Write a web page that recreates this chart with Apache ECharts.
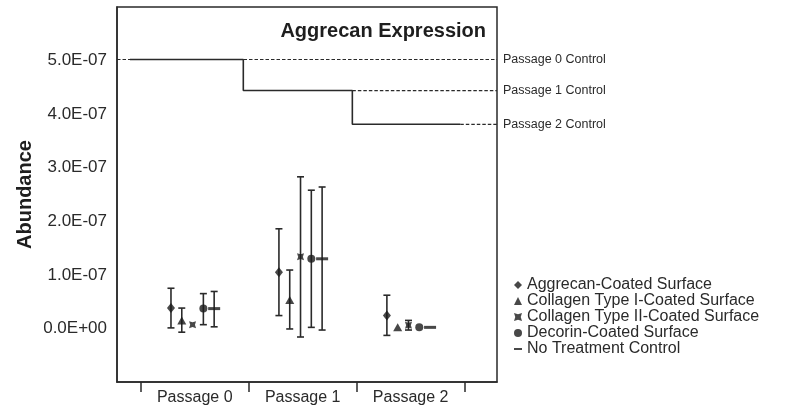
<!DOCTYPE html>
<html>
<head>
<meta charset="utf-8">
<script src="https://cdn.jsdelivr.net/npm/echarts@6/dist/echarts.min.js"></script>
<style>
    html, body { margin: 0; padding: 0; background: #fff; }
    #aggrecanChart { width: 787px; height: 411px; }
</style>
</head>
<body>
<div id="aggrecanChart"></div>
<script>
    // values are in units of 1E-07
    var categories = ['Passage 0', 'Passage 1', 'Passage 2'];
    var seriesNames = ['Aggrecan-Coated Surface', 'Collagen Type I-Coated Surface',
        'Collagen Type II-Coated Surface', 'Decorin-Coated Surface', 'No Treatment Control'];

    var aggrecanMean = [0.38, 1.05, 0.24];
    var aggrecanLow  = [0.01, 0.24, -0.13];
    var aggrecanHigh = [0.75, 1.86, 0.62];

    var collagen1Mean = [0.15, 0.53, 0.02];
    var collagen1Low  = [-0.07, -0.01, 0.02];
    var collagen1High = [0.38, 1.09, 0.02];

    var collagen2Mean = [0.07, 1.34, 0.06];
    var collagen2Low  = [0.07, -0.16, -0.03];
    var collagen2High = [0.07, 2.83, 0.15];

    var decorinMean = [0.37, 1.30, 0.02];
    var decorinLow  = [0.07, 0.02, 0.02];
    var decorinHigh = [0.65, 2.58, 0.02];

    var noTreatMean = [0.37, 1.30, 0.02];
    var noTreatLow  = [0.03, -0.03, 0.02];
    var noTreatHigh = [0.69, 2.64, 0.02];

    var controlNames = ['Passage 0 Control', 'Passage 1 Control', 'Passage 2 Control'];
    var controlValues = [5.02, 4.44, 3.81];
    var branchX = [0.40, 1.45, 2.46, 3.46];   // where the control step line turns

    var yTicks = [-1, 0, 1, 2, 3, 4, 5, 6];

    var means = [aggrecanMean, collagen1Mean, collagen2Mean, decorinMean, noTreatMean];
    var lows = [aggrecanLow, collagen1Low, collagen2Low, decorinLow, noTreatLow];
    var highs = [aggrecanHigh, collagen1High, collagen2High, decorinHigh, noTreatHigh];

    var X_MIN = 0.28, X_MAX = 3.8;
    var offsets = [-0.22, -0.12, -0.02, 0.08, 0.18];
    var bowtie = 'path://M0,0 L5,1.6 L10,0 L8.4,5 L10,10 L5,8.4 L0,10 L1.6,5 Z';
    var symbols = ['diamond', 'triangle', bowtie, 'circle', 'rect'];
    var symbolSizes = [[8, 10], [9, 8], [7, 7], [8, 8], [12, 3]];
    var legendIcons = ['diamond', 'triangle', bowtie, 'circle', 'path://M0,0 L12,0 L12,3 L0,3 Z'];

    var font = 'Liberation Sans, Arial, Helvetica, sans-serif';
    var ink = '#2a2a2a';

    var mychart = echarts.init(document.getElementById('aggrecanChart'));

    // error bar data: [x, low, high]
    var errData = [];
    for (var s = 0; s < means.length; s++) {
        for (var i = 0; i < categories.length; i++) {
            errData.push([i + 1 + offsets[s], lows[s][i], highs[s][i]]);
        }
    }

    var series = [];
    series.push({
        type: 'custom',
        name: 'errorbars',
        silent: true,
        z: 2,
        data: errData,
        renderItem: function (params, api) {
            var x = api.value(0);
            var lo = api.coord([x, api.value(1)]);
            var hi = api.coord([x, api.value(2)]);
            if (Math.abs(lo[1] - hi[1]) < 1) return null;
            var w = 3.5;
            var style = { stroke: ink, lineWidth: 1.6 };
            return {
                type: 'group',
                children: [
                    { type: 'line', shape: { x1: lo[0], y1: lo[1], x2: hi[0], y2: hi[1] }, style: style },
                    { type: 'line', shape: { x1: hi[0] - w, y1: hi[1], x2: hi[0] + w, y2: hi[1] }, style: style },
                    { type: 'line', shape: { x1: lo[0] - w, y1: lo[1], x2: lo[0] + w, y2: lo[1] }, style: style }
                ]
            };
        }
    });

    for (var s = 0; s < means.length; s++) {
        var pts = [];
        for (var i = 0; i < categories.length; i++) {
            pts.push([i + 1 + offsets[s], means[s][i]]);
        }
        series.push({
            type: 'scatter',
            name: seriesNames[s],
            symbol: symbols[s],
            symbolSize: symbolSizes[s],
            itemStyle: { color: '#1a1a1a' },
            z: 3,
            data: pts
        });
    }

    // solid step line linking the controls
    series.push({
        type: 'line',
        name: 'controlStep',
        silent: true,
        showSymbol: false,
        z: 2,
        lineStyle: { color: ink, width: 1.6, type: 'solid' },
        data: [
            [branchX[0], controlValues[0]], [branchX[1], controlValues[0]],
            [branchX[1], controlValues[1]], [branchX[2], controlValues[1]],
            [branchX[2], controlValues[2]], [branchX[3], controlValues[2]]
        ]
    });

    // dashed control levels with labels outside the frame
    var dashStart = [X_MIN, branchX[2], branchX[3]];
    for (var c = 0; c < controlNames.length; c++) {
        series.push({
            type: 'line',
            name: controlNames[c],
            silent: true,
            showSymbol: false,
            z: 1,
            lineStyle: { color: ink, width: 1.2, type: [3.5, 2] },
            endLabel: {
                show: true,
                formatter: '{a}',
                color: ink,
                fontSize: 12.5,
                fontFamily: font,
                distance: 6
            },
            data: [[dashStart[c], controlValues[c]], [X_MAX, controlValues[c]]]
        });
    }

    var legendData = [];
    for (var s = 0; s < seriesNames.length; s++) {
        legendData.push({ name: seriesNames[s], icon: legendIcons[s] });
    }

    mychart.setOption({
        animation: false,
        title: {
            text: 'Aggrecan Expression',
            right: 296,
            top: 16,
            textStyle: { fontSize: 20, fontWeight: 'bold', color: '#1e1e1e', fontFamily: font }
        },
        legend: {
            data: legendData,
            orient: 'vertical',
            left: 514,
            top: 277,
            itemWidth: 8,
            itemHeight: 8,
            itemGap: 0,
            selectedMode: false,
            padding: 0,
            textStyle: { fontSize: 16, lineHeight: 16, color: ink, fontFamily: font }
        },
        grid: {
            left: 117,
            right: 290,
            top: 7,
            bottom: 29,
            show: true,
            borderColor: ink,
            borderWidth: 1.5,
            containLabel: false,
            outerBoundsMode: 'none'
        },
        xAxis: {
            type: 'value',
            min: X_MIN,
            max: X_MAX,
            splitLine: { show: false },
            axisLine: { show: true, onZero: false, lineStyle: { color: ink, width: 1.5 } },
            axisTick: {
                show: true,
                inside: false,
                length: 10,
                customValues: [0.5, 1.5, 2.5, 3.5],
                lineStyle: { color: ink, width: 1.5 }
            },
            axisLabel: {
                customValues: [1, 2, 3],
                margin: 8,
                fontSize: 16,
                color: ink,
                fontFamily: font,
                formatter: function (v) { return categories[Math.round(v) - 1]; }
            }
        },
        yAxis: {
            type: 'value',
            min: yTicks[0],
            max: yTicks[yTicks.length - 1],
            interval: 1,
            name: 'Abundance',
            nameLocation: 'middle',
            nameGap: 82,
            nameRotate: 90,
            nameTextStyle: { fontSize: 20, fontWeight: 'bold', color: '#1e1e1e', fontFamily: font },
            splitLine: { show: false },
            axisTick: { show: false },
            axisLine: { show: true, onZero: false, lineStyle: { color: ink, width: 1.5 } },
            axisLabel: {
                margin: 10,
                fontSize: 17,
                color: ink,
                fontFamily: font,
                formatter: function (v) {
                    if (v < -0.5 || v > 5.5) return '';
                    if (Math.abs(v) < 1e-9) return '0.0E+00';
                    return v.toFixed(1) + 'E-07';
                }
            }
        },
        series: series
    });
</script>
</body>
</html>
